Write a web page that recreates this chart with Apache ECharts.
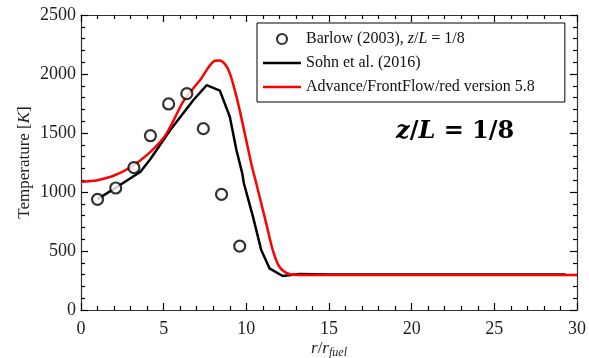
<!DOCTYPE html>
<html><head><meta charset="utf-8">
<script src="https://cdn.jsdelivr.net/npm/echarts@6/dist/echarts.min.js"></script>
<style>html,body{margin:0;padding:0;background:#fff}#c{width:589px;height:358px}</style>
</head><body><div id="c"></div>
<script>
// Barlow (2003) experimental points
const barlowX = [1.0, 2.1, 3.2, 4.2, 5.3, 6.4, 7.4, 8.5, 9.6];
const barlowY = [938, 1034, 1206, 1477, 1746, 1833, 1537, 980, 542];
// Sohn et al. (2016)
const sohnX = [1.0, 2.1, 3.6, 4.2, 5.4, 6.8, 7.6, 8.4, 9.0, 9.4, 9.75, 9.85, 10.4, 10.9, 11.4, 12.2, 13.2, 15, 20, 25, 29.3];
const sohnY = [940, 1036, 1172, 1280, 1525, 1780, 1905, 1859, 1638, 1356, 1160, 1074, 791, 508, 353, 288, 305, 300, 300, 300, 300];
// Advance/FrontFlow/red version 5.8
const affrX = [0, 0.5, 1, 2, 3, 4, 5, 5.5, 6.2, 7.2, 8.1, 8.4, 8.9, 9.4, 9.9, 10.3, 10.6, 11.2, 11.6, 12.0, 12.6, 13.3, 15, 20, 25, 30];
const affrY = [1087, 1092, 1100, 1140, 1210, 1315, 1460, 1580, 1770, 1949, 2112, 2115, 2040, 1810, 1500, 1240, 1074, 735, 508, 367, 305, 297, 297, 297, 297, 297];
const xTicks = [0, 5, 10, 15, 20, 25, 30];
const yTicks = [0, 500, 1000, 1500, 2000, 2500];

const pair = (xs, ys) => xs.map((x, i) => [x, ys[i]]);
const FONT = '"Liberation Serif", "Times New Roman", serif';
const chart = echarts.init(document.getElementById('c'));
const mkTick = () => ({show: true, inside: true, length: 7, lineStyle: {color: '#000', width: 1.2}});
const mkMinor = () => ({show: true, splitNumber: 5, length: 4, lineStyle: {color: '#000', width: 1.2}});
const mkLine = () => ({show: true, onZero: false, lineStyle: {color: '#333', width: 1.2}});
const lineIcon = 'path://M0,0H38V2.6H0Z';
chart.setOption({
  animation: false,
  backgroundColor: '#fff',
  grid: {left: 81, right: 12, top: 15, bottom: 48, containLabel: false, outerBoundsMode: 'none'},
  title: {
    text: '{i|z}{n|/}{i|L}{n| = 1/8}',
    left: 391, top: 115,
    textStyle: {rich: {
      i: {fontFamily: '"DejaVu Serif", serif', fontSize: 24, fontWeight: 'bold', fontStyle: 'italic', color: '#000'},
      n: {fontFamily: '"DejaVu Serif", serif', fontSize: 24, fontWeight: 'bold', color: '#000'}
    }}
  },
  legend: {
    orient: 'vertical', left: 257, top: 23,
    padding: [8, 30, 7, 6],
    itemGap: 8,
    itemWidth: 38, itemHeight: 10,
    borderColor: '#000', borderWidth: 1,
    data: [
      {name: 'Barlow', icon: 'circle', itemStyle: {color: '#fff', borderColor: '#000', borderWidth: 2.2}},
      {name: 'Sohn', icon: lineIcon, itemStyle: {color: '#000', borderWidth: 0}},
      {name: 'AFFR', icon: lineIcon, itemStyle: {color: '#f00', borderWidth: 0}}
    ],
    formatter: n => n === 'Barlow' ? '{t|Barlow (2003), }{i|z}{t|/}{i|L}{t| = 1/8}'
      : n === 'Sohn' ? '{t|Sohn et al. (2016)}' : '{t|Advance/FrontFlow/red version 5.8}',
    textStyle: {rich: {
      t: {fontFamily: FONT, fontSize: 16, color: '#111', height: 18},
      i: {fontFamily: FONT, fontSize: 16, fontStyle: 'italic', color: '#111', height: 18}
    }}
  },
  xAxis: [{
    type: 'value', min: 0, max: 30, interval: 5, position: 'bottom',
    axisLine: mkLine(), axisTick: mkTick(), minorTick: mkMinor(),
    splitLine: {show: false}, minorSplitLine: {show: false},
    axisLabel: {fontFamily: FONT, fontSize: 18, color: '#222', margin: 10,
      formatter: v => xTicks.includes(v) ? String(v) : ''},
    name: '{i|r}{n|/}{i|r}{s|fuel}', nameLocation: 'middle', nameGap: 29, nameMoveOverlap: false,
    nameTextStyle: {rich: {
      i: {fontFamily: FONT, fontSize: 17, fontStyle: 'italic', color: '#222'},
      n: {fontFamily: FONT, fontSize: 17, color: '#222'},
      s: {fontFamily: FONT, fontSize: 12, fontStyle: 'italic', color: '#222', verticalAlign: 'bottom', padding: [8, 0, 0, 0]}
    }}
  }, {
    type: 'value', min: 0, max: 30, interval: 5, position: 'top',
    axisLine: mkLine(), axisTick: mkTick(), minorTick: mkMinor(),
    splitLine: {show: false}, axisLabel: {show: false}
  }],
  yAxis: [{
    type: 'value', min: 0, max: 2500, interval: 500, position: 'left',
    axisLine: mkLine(), axisTick: mkTick(), minorTick: mkMinor(),
    splitLine: {show: false},
    axisLabel: {fontFamily: FONT, fontSize: 18, color: '#222', margin: 5,
      formatter: v => yTicks.includes(v) ? String(v) : ''},
    name: '{n|Temperature [}{i|K}{n|]}', nameLocation: 'middle', nameGap: 48, nameRotate: 90, nameMoveOverlap: false,
    nameTextStyle: {rich: {
      i: {fontFamily: FONT, fontSize: 17, fontStyle: 'italic', color: '#222'},
      n: {fontFamily: FONT, fontSize: 17, color: '#222'}
    }}
  }, {
    type: 'value', min: 0, max: 2500, interval: 500, position: 'right',
    axisLine: mkLine(), axisTick: mkTick(), minorTick: mkMinor(),
    splitLine: {show: false}, axisLabel: {show: false}
  }],
  series: [{
    name: 'Barlow', type: 'scatter', data: pair(barlowX, barlowY),
    symbol: 'circle', symbolSize: 11, z: 5,
    itemStyle: {color: '#fff', borderColor: '#000', borderWidth: 2.2}
  }, {
    name: 'Sohn', type: 'line', data: pair(sohnX, sohnY), symbol: 'none',
    lineStyle: {color: '#000', width: 2.5}, itemStyle: {color: '#000'}, z: 3
  }, {
    name: 'AFFR', type: 'line', data: pair(affrX, affrY), symbol: 'none', smooth: 0.3,
    lineStyle: {color: '#f00', width: 2.5}, itemStyle: {color: '#f00'}, z: 4
  }]
});
</script></body></html>
